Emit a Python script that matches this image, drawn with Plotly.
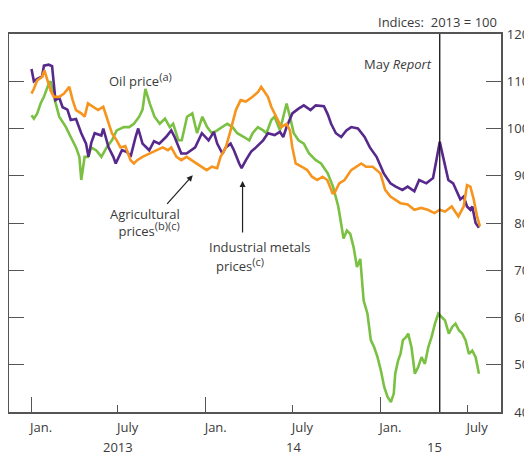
import plotly.graph_objects as go

# ---------------- data ----------------
metals_dates = [
    "2013-01-02", "2013-01-07", "2013-01-14", "2013-01-24", "2013-01-28", "2013-02-07", "2013-02-14",
    "2013-02-21", "2013-03-01", "2013-03-08", "2013-03-18", "2013-03-25", "2013-04-05", "2013-04-16",
    "2013-04-26", "2013-05-01", "2013-05-07", "2013-05-14", "2013-05-28", "2013-06-01", "2013-06-12",
    "2013-06-22", "2013-06-27", "2013-07-10", "2013-07-21", "2013-07-28", "2013-08-07", "2013-08-13",
    "2013-08-22", "2013-09-05", "2013-09-15", "2013-09-26", "2013-10-10", "2013-10-21", "2013-10-28",
    "2013-11-11", "2013-11-22", "2013-12-10", "2013-12-24", "2014-01-07", "2014-01-18", "2014-01-25",
    "2014-02-05", "2014-02-12", "2014-02-22", "2014-03-01", "2014-03-12", "2014-03-17", "2014-03-26",
    "2014-04-06", "2014-04-16", "2014-05-01", "2014-05-11", "2014-05-25", "2014-06-05", "2014-06-12",
    "2014-06-19", "2014-07-01", "2014-07-14", "2014-07-25", "2014-08-08", "2014-08-19", "2014-09-05",
    "2014-09-13", "2014-09-20", "2014-09-30", "2014-10-11", "2014-10-22", "2014-11-01", "2014-11-15",
    "2014-11-29", "2014-12-10", "2014-12-24", "2015-01-08", "2015-01-22", "2015-02-02", "2015-02-16",
    "2015-02-27", "2015-03-13", "2015-03-23", "2015-04-07", "2015-04-21", "2015-04-28", "2015-05-05",
    "2015-05-12", "2015-05-23", "2015-06-02", "2015-06-17", "2015-06-24", "2015-07-01", "2015-07-08",
    "2015-07-12", "2015-07-19", "2015-07-26",
]
metals_values = [
    112.6, 110.0, 110.5, 111.0, 113.3, 113.5, 113.2,
    106.0, 106.5, 104.5, 104.0, 101.8, 102.0, 99.0,
    96.8, 94.0, 97.0, 99.0, 98.5, 100.0, 96.0,
    94.0, 92.6, 95.4, 95.0, 94.0, 98.0, 100.0,
    96.8, 95.4, 97.3, 96.8, 98.2, 99.6, 98.2,
    94.7, 94.7, 96.0, 99.0, 97.5, 99.3, 96.8,
    94.7, 96.0, 96.8, 95.4, 92.6, 91.6, 93.3,
    95.1, 96.0, 97.5, 99.0, 98.6, 99.3, 98.2,
    100.3, 103.2, 104.2, 104.9, 103.9, 104.9, 104.7,
    103.0, 101.0, 99.0, 98.2, 99.6, 100.3, 100.0,
    98.2, 96.0, 94.0, 90.5, 88.4, 87.7, 87.0,
    87.7, 86.7, 89.1, 88.4, 89.5, 93.3, 97.2,
    94.0, 89.1, 88.4, 85.0, 85.6, 83.5, 82.8,
    83.5, 80.0, 79.0,
]

agri_dates = [
    "2013-01-02", "2013-01-07", "2013-01-14", "2013-01-24", "2013-01-29", "2013-02-04", "2013-02-11",
    "2013-02-18", "2013-03-01", "2013-03-11", "2013-03-22", "2013-03-29", "2013-04-05", "2013-04-16",
    "2013-04-23", "2013-04-30", "2013-05-11", "2013-05-21", "2013-06-01", "2013-06-08", "2013-06-19",
    "2013-06-29", "2013-07-07", "2013-07-17", "2013-07-28", "2013-08-04", "2013-08-11", "2013-08-22",
    "2013-09-05", "2013-09-19", "2013-10-03", "2013-10-14", "2013-10-21", "2013-11-01", "2013-11-11",
    "2013-11-22", "2013-12-02", "2013-12-13", "2013-12-24", "2014-01-03", "2014-01-14", "2014-01-25",
    "2014-02-01", "2014-02-12", "2014-02-22", "2014-03-05", "2014-03-15", "2014-03-26", "2014-04-09",
    "2014-04-20", "2014-04-27", "2014-05-04", "2014-05-11", "2014-05-18", "2014-05-29", "2014-06-08",
    "2014-06-19", "2014-06-26", "2014-07-01", "2014-07-08", "2014-07-21", "2014-08-01", "2014-08-11",
    "2014-08-22", "2014-09-02", "2014-09-12", "2014-09-23", "2014-09-27", "2014-10-07", "2014-10-18",
    "2014-11-01", "2014-11-11", "2014-11-22", "2014-12-02", "2014-12-16", "2015-01-01", "2015-01-11",
    "2015-01-22", "2015-02-02", "2015-02-12", "2015-02-27", "2015-03-13", "2015-03-27", "2015-04-10",
    "2015-04-24", "2015-05-05", "2015-05-16", "2015-05-30", "2015-06-13", "2015-06-24", "2015-07-01",
    "2015-07-08", "2015-07-15", "2015-07-22", "2015-07-28",
]
agri_values = [
    107.4, 108.4, 110.2, 110.9, 112.3, 110.2, 108.0,
    106.7, 106.7, 107.4, 108.8, 106.0, 103.9, 103.2,
    102.5, 105.3, 104.6, 103.9, 104.6, 102.5, 99.0,
    97.5, 96.0, 96.3, 93.3, 92.6, 93.3, 94.0,
    94.7, 95.4, 96.0, 95.4, 96.0, 94.0, 93.3,
    94.0, 93.3, 92.6, 91.9, 91.2, 91.9, 91.6,
    94.0, 96.0, 99.6, 103.9, 106.0, 105.7, 106.7,
    107.7, 108.8, 107.7, 106.7, 104.6, 102.5, 100.3,
    101.0, 99.6, 96.0, 92.6, 91.9, 91.2, 89.8,
    89.1, 89.8, 89.1, 86.3, 86.3, 88.4, 89.1,
    91.2, 91.9, 92.6, 91.9, 91.9, 90.5, 87.0,
    85.6, 84.9, 84.2, 83.9, 82.8, 83.2, 82.8,
    82.1, 82.8, 82.4, 83.5, 81.4, 83.5, 88.0,
    87.7, 85.0, 81.4, 79.3,
]

oil_dates = [
    "2013-01-02", "2013-01-07", "2013-01-14", "2013-01-21", "2013-01-28", "2013-02-07", "2013-02-11",
    "2013-02-18", "2013-03-01", "2013-03-15", "2013-03-25", "2013-04-05", "2013-04-12", "2013-04-16",
    "2013-04-23", "2013-04-30", "2013-05-07", "2013-05-18", "2013-05-28", "2013-06-08", "2013-06-19",
    "2013-06-29", "2013-07-14", "2013-07-25", "2013-08-04", "2013-08-15", "2013-08-22", "2013-08-28",
    "2013-09-06", "2013-09-16", "2013-09-27", "2013-10-08", "2013-10-18", "2013-10-25", "2013-11-05",
    "2013-11-12", "2013-11-23", "2013-12-04", "2013-12-14", "2013-12-25", "2014-01-04", "2014-01-14",
    "2014-01-25", "2014-02-05", "2014-02-15", "2014-02-26", "2014-03-08", "2014-03-22", "2014-04-02",
    "2014-04-09", "2014-04-20", "2014-05-01", "2014-05-08", "2014-05-18", "2014-05-25", "2014-06-05",
    "2014-06-16", "2014-06-19", "2014-06-26", "2014-07-04", "2014-07-14", "2014-07-25", "2014-08-05",
    "2014-08-19", "2014-08-30", "2014-09-13", "2014-09-24", "2014-10-05", "2014-10-12", "2014-10-16",
    "2014-10-23", "2014-10-30", "2014-11-06", "2014-11-13", "2014-11-20", "2014-11-27", "2014-12-05",
    "2014-12-12", "2014-12-19", "2014-12-26", "2015-01-02", "2015-01-09", "2015-01-16", "2015-01-23",
    "2015-01-29", "2015-02-01", "2015-02-07", "2015-02-12", "2015-02-17", "2015-02-24", "2015-02-28",
    "2015-03-07", "2015-03-14", "2015-03-21", "2015-03-28", "2015-04-04", "2015-04-11", "2015-04-18",
    "2015-04-25", "2015-05-02", "2015-05-09", "2015-05-16", "2015-05-24", "2015-05-31", "2015-06-07",
    "2015-06-14", "2015-06-21", "2015-06-28", "2015-07-05", "2015-07-12", "2015-07-19", "2015-07-26",
]
oil_values = [
    102.8, 102.1, 103.2, 105.3, 106.7, 109.5, 110.0,
    106.7, 102.5, 100.3, 98.2, 96.0, 94.0, 89.1,
    94.0, 94.0, 96.0, 95.3, 94.0, 96.0, 97.5,
    99.6, 100.3, 100.3, 101.0, 102.5, 104.0, 108.4,
    105.3, 102.5, 101.0, 102.1, 100.3, 101.0, 97.5,
    97.5, 102.5, 103.2, 99.0, 102.5, 100.3, 99.0,
    99.6, 100.3, 101.0, 100.3, 99.0, 98.2, 97.5,
    99.0, 100.3, 99.6, 99.0, 101.8, 102.5, 99.6,
    103.9, 105.3, 102.5, 99.0, 97.5, 96.8, 94.7,
    93.3, 92.6, 90.5, 87.7, 83.5, 79.2, 76.7,
    78.4, 77.7, 74.9, 70.7, 72.4, 63.6, 60.8,
    55.2, 53.7, 51.6, 48.8, 45.3, 43.2, 42.1,
    43.9, 48.1, 50.9, 52.3, 55.2, 55.9, 56.6,
    53.7, 48.1, 49.5, 51.6, 50.2, 53.7, 55.9,
    58.7, 60.8, 60.1, 59.4, 56.6, 58.0, 58.7,
    57.3, 56.6, 55.2, 52.3, 53.0, 51.6, 48.1,
]

x_range = ["2012-11-16", "2015-09-10"]
y_range = [40, 120]
y_ticks = [40, 50, 60, 70, 80, 90, 100, 110, 120]
label_ticks = ["2013-01-01", "2013-07-01", "2014-01-01", "2014-07-01", "2015-01-01", "2015-07-01"]
label_text = ["Jan.", "July", "Jan.", "July", "Jan.", "July"]
jan_ticks = ["2013-01-01", "2014-01-01", "2015-01-01"]
year_positions = ["2013-07-01", "2014-07-03", "2015-04-24"]
year_labels = ["2013", "14", "15"]
report_date = "2015-05-05"

GREEN = "#7AC143"
ORANGE = "#F7941D"
PURPLE = "#57298C"
AXIS = "#555555"
TEXT = "#3a3a3a"
FONT = "Open Sans"

# The page body adds an 8px offset, so the figure is 8px smaller than the window.
W, H = 524, 446
ML, MR, MT, MB = 1, 0, 26, 42
PLOT_W = 492
D = PLOT_W / (W - ML - MR)
PLOT_H = H - MT - MB


def sup(t):
    return '<sup><span style="font-size:11px">' + t + '</span></sup>'


fig = go.Figure()
fig.add_trace(go.Scatter(x=oil_dates, y=oil_values, mode="lines",
                         line=dict(color=GREEN, width=2.6), hoverinfo="skip"))
fig.add_trace(go.Scatter(x=metals_dates, y=metals_values, mode="lines",
                         line=dict(color=PURPLE, width=2.6), hoverinfo="skip"))
fig.add_trace(go.Scatter(x=agri_dates, y=agri_values, mode="lines",
                         line=dict(color=ORANGE, width=2.6), hoverinfo="skip"))
# helper trace so the overlay axes (long Jan. ticks, right-aligned labels) are drawn
fig.add_trace(go.Scatter(x=[], y=[], xaxis="x2", yaxis="y2", hoverinfo="skip"))

fig.update_layout(
    width=W, height=H,
    margin=dict(l=ML, r=MR, t=MT, b=MB),
    paper_bgcolor="white", plot_bgcolor="white",
    showlegend=False,
    font=dict(family=FONT, size=13, color=TEXT),
    xaxis=dict(type="date", range=x_range, domain=[0, D],
               tickmode="array", tickvals=label_ticks, ticktext=label_text,
               ticks="inside", ticklen=7, tickwidth=1.3, tickcolor=AXIS,
               ticklabelshift=10, ticklabelstandoff=3,
               showline=True, linecolor=AXIS, linewidth=1.5, mirror=True,
               showgrid=False, zeroline=False),
    xaxis2=dict(type="date", range=x_range, domain=[0, D], overlaying="x", anchor="y2",
                tickmode="array", tickvals=jan_ticks,
                ticks="inside", ticklen=15, tickwidth=1.3, tickcolor=AXIS,
                showticklabels=False, showline=False, showgrid=False, zeroline=False),
    yaxis=dict(range=y_range, tickmode="array", tickvals=y_ticks,
               ticks="inside", ticklen=15, tickwidth=1.3, tickcolor=AXIS,
               showticklabels=False,
               showline=True, linecolor=AXIS, linewidth=1.5, mirror="ticks",
               showgrid=False, zeroline=False),
    yaxis2=dict(range=y_range, overlaying="y", anchor="free", position=0.9946, side="left",
                tickmode="array", tickvals=y_ticks, ticks="",
                showline=False, showgrid=False, zeroline=False,
                tickfont=dict(family=FONT, size=13, color=TEXT)),
)

# May Report line
fig.add_shape(type="line", xref="x", yref="paper", x0=report_date, x1=report_date,
              y0=0, y1=1, line=dict(color="#111111", width=1.3))

ann = []
ann.append(dict(x=report_date, y=113.6, xref="x", yref="y", xanchor="right", yanchor="middle",
                xshift=-6, text="May <i>Report</i>", showarrow=False))
ann.append(dict(x=1, y=1 + 12.3 / PLOT_H, xref="x domain", yref="paper", xanchor="right",
                yanchor="middle", xshift=-2, text="Indices:\u00a0 2013 = 100", showarrow=False))
for pos, lab in zip(year_positions, year_labels):
    ann.append(dict(x=pos, y=-35.0 / PLOT_H, xref="x", yref="paper", xanchor="center",
                    yanchor="middle", text=lab, showarrow=False))
ann.append(dict(x="2013-06-08", y=110.4, xref="x", yref="y", xanchor="left", yanchor="middle",
                text="Oil price" + sup("(a)"), showarrow=False))
ann.append(dict(x="2013-11-12", y=80.2, xref="x", yref="y", xanchor="right", yanchor="middle",
                align="right", text="Agricultural<br>prices" + sup("(b)(c)"), showarrow=False))
ann.append(dict(x="2014-04-24", y=75.0, xref="x", yref="y", xanchor="center", yanchor="middle",
                text="Industrial metals", showarrow=False))
ann.append(dict(x="2014-01-18", y=71.3, xref="x", yref="y", xanchor="left", yanchor="middle",
                text="prices" + sup("(c)"), showarrow=False))
# arrows
ann.append(dict(x="2013-12-05", y=90.1, xref="x", yref="y", text="", showarrow=True,
                ax=-27, ay=30, arrowhead=2, arrowsize=1, arrowwidth=1.2, arrowcolor="#222222"))
ann.append(dict(x="2014-03-19", y=88.9, xref="x", yref="y", text="", showarrow=True,
                ax=0, ay=53, arrowhead=2, arrowsize=1, arrowwidth=1.2, arrowcolor="#222222"))
fig.update_layout(annotations=ann)

fig.write_html("out.html")
